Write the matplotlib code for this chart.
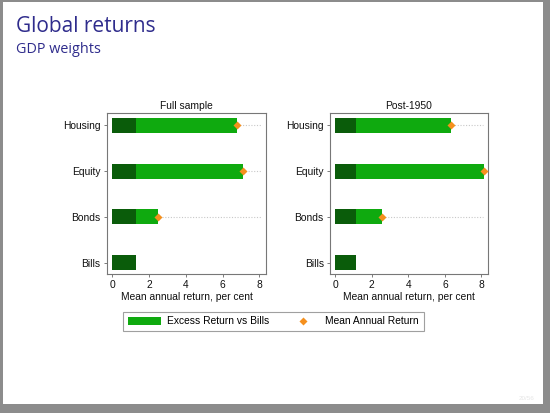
import matplotlib
matplotlib.use('Agg')
import matplotlib.pyplot as plt
from matplotlib.patches import Rectangle, Patch
from matplotlib.lines import Line2D

##-----------------------------------------------------------------------------
## data (mean annual return, per cent)
assets = ['Bills', 'Bonds', 'Equity', 'Housing']

full_bills = 1.29
full_mean = [1.29, 2.50, 7.12, 6.76]

post_bills = 1.13
post_mean = [1.13, 2.56, 8.16, 6.36]

panels = [('Full sample', full_bills, full_mean),
          ('Post-1950', post_bills, post_mean)]
##-----------------------------------------------------------------------------

dark_green = '#0a5c0a'
light_green = '#0faa0f'
orange = '#f5901e'
title_col = '#2f2c8c'

plt.rcParams['font.family'] = ['Liberation Sans', 'DejaVu Sans']

fig = plt.figure(figsize=(5.5, 4.13), dpi=100)
fig.patch.set_facecolor('#8c8c8c')
## white slide on grey background
fig.patches.append(Rectangle((3/550, 1 - 404/413), 540/550, 402/413,
                             transform=fig.transFigure, facecolor='white',
                             edgecolor='none', zorder=-5))

fig.text(16/550, 1 - 31.7/413, 'Global returns', color=title_col,
         fontsize=15, family='Open Sans', va='baseline')
fig.text(16/550, 1 - 53.3/413, 'GDP weights', color=title_col,
         fontsize=10.4, family='Open Sans', va='baseline')
fig.text(527/550, 1 - 400/413, '20/56', color='#e6e6e6', fontsize=4.5,
         ha='center', va='baseline')

positions = [[107/550, 1 - 274/413, 159/550, 161/413],
             [330/550, 1 - 274/413, 158/550, 161/413]]

y = list(range(len(assets)))
for pos, (title, bills, mean) in zip(positions, panels):
    ax = fig.add_axes(pos)
    for i, m in enumerate(mean):
        if assets[i] != 'Bills':
            ax.plot([0, 8.1], [y[i], y[i]], ls=(0, (1, 1.5)), color='#c8c8c8',
                    lw=0.8, zorder=1)
    ax.barh(y, [bills]*len(y), height=0.33, color=dark_green, zorder=2)
    excess = [m - bills for m in mean]
    ax.barh(y[1:], excess[1:], left=bills, height=0.33, color=light_green,
            zorder=2)
    ax.plot(mean[1:], y[1:], 'D', color=orange, ms=3.8, mec='none', zorder=3)

    ax.set_xlim(-0.29, 8.36)
    ax.set_ylim(-0.25, 3.27)
    ax.set_yticks(y)
    ax.set_yticklabels(assets)
    ax.set_xticks([0, 2, 4, 6, 8])
    ax.tick_params(labelsize=7.4, length=2.5, width=0.6, color='#666666',
                   pad=2, labelcolor='#111111')
    for s in ax.spines.values():
        s.set_color('#777777')
        s.set_linewidth(0.8)
    ax.set_title(title, fontsize=7.4, pad=3, color='#111111')
    ax.set_xlabel('Mean annual return, per cent', fontsize=7.4, labelpad=1,
                  color='#111111')

handles = [Patch(facecolor=light_green, edgecolor='none'),
           Line2D([], [], marker='D', ls='none', color=orange, ms=3.8,
                  mec='none')]
leg = fig.legend(handles, ['Excess Return vs Bills', 'Mean Annual Return'],
                 loc='center', bbox_to_anchor=(273.3/550, 1 - 321.5/413),
                 ncol=2, fontsize=7.4, frameon=True, fancybox=False,
                 handlelength=3.3, handletextpad=0.5, columnspacing=1.7,
                 borderpad=0.45)
leg.get_frame().set_edgecolor('#888888')
leg.get_frame().set_linewidth(0.8)

fig.savefig('out.png', dpi=100, facecolor=fig.get_facecolor())
